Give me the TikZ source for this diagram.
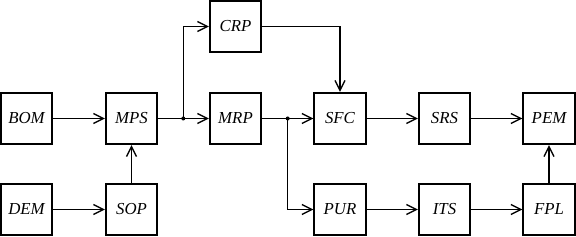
\documentclass[tikz,border=0pt]{standalone}
\usepackage{fontspec}
\setmainfont{Liberation Serif}
\usetikzlibrary{arrows.meta}
\begin{document}
\begin{tikzpicture}[x=1pt,y=1pt,
  blk/.style={draw, line width=1.6pt, minimum size=51.5pt, inner sep=0pt, font=\fontsize{16.8}{18}\selectfont\itshape},
  con/.style={line width=1.4pt, -{Straight Barb[length=10pt,width=10pt,line width=1.4pt]}},
  ln/.style={line width=1.4pt},
  dotc/.style={circle, fill, inner sep=0pt, minimum size=4pt}]
\useasboundingbox (0,0) rectangle (576,237);
\node[blk] (BOM) at (26.5,118.5) {BOM};
\node[blk] (DEM) at (26.5,27.5) {DEM};
\node[blk] (MPS) at (131.5,118.5) {MPS};
\node[blk] (SOP) at (131.5,27.5) {SOP};
\node[blk] (CRP) at (235.5,210.5) {CRP};
\node[blk] (MRP) at (235.5,118.5) {MRP};
\node[blk] (SFC) at (340,118.5) {SFC};
\node[blk] (PUR) at (340,27.5) {PUR};
\node[blk] (SRS) at (444.5,118.5) {SRS};
\node[blk] (ITS) at (444.5,27.5) {ITS};
\node[blk] (PEM) at (549,118.5) {PEM};
\node[blk] (FPL) at (549,27.5) {FPL};
\node[dotc] (d1) at (183.3,118.5) {};
\node[dotc] (d2) at (287.7,118.5) {};
\draw[con] (BOM) -- (MPS);
\draw[con] (DEM) -- (SOP);
\draw[con] (SOP) -- (MPS);
\draw[ln] (MPS.east) -- (d1.center);
\draw[con] (d1.center) -- (MRP);
\draw[con] (d1.center) |- (CRP.west);
\draw[con] (CRP.east) -| (SFC.north);
\draw[ln] (MRP.east) -- (d2.center);
\draw[con] (d2.center) -- (SFC);
\draw[con] (d2.center) |- (PUR.west);
\draw[con] (SFC) -- (SRS);
\draw[con] (SRS) -- (PEM);
\draw[con] (PUR) -- (ITS);
\draw[con] (ITS) -- (FPL);
\draw[con] (FPL) -- (PEM);
\end{tikzpicture}
\end{document}
